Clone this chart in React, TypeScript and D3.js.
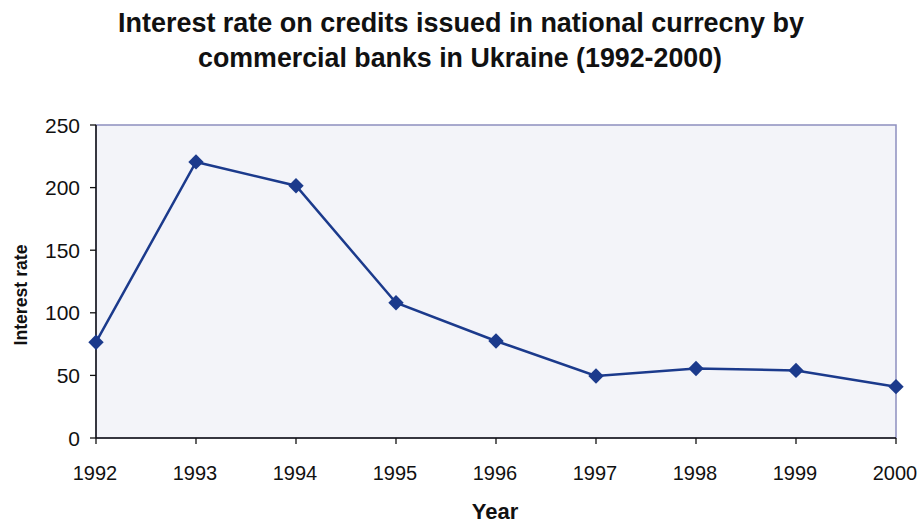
import React from "react";
import * as d3 from "d3";

const years = ["1992", "1993", "1994", "1995", "1996", "1997", "1998", "1999", "2000"];
const rates = [76.5, 220.5, 201.5, 108, 77.5, 49.5, 55.5, 54, 41];
const yTicks = [0, 50, 100, 150, 200, 250];
const titleLines = [
  "Interest rate on credits issued in national currecny by",
  "commercial banks in Ukraine (1992-2000)",
];
const xTitle = "Year";
const yTitle = "Interest rate";

export default function App() {
  const W = 922, H = 525;
  const left = 96, right = 896, top = 125, bottom = 438;
  const x = d3.scalePoint<string>().domain(years).range([left, right]);
  const y = d3.scaleLinear().domain([0, 250]).range([bottom, top]);
  const line = d3
    .line<number>()
    .x((_, i) => x(years[i]) as number)
    .y((d) => y(d));
  const diamond = d3.symbol().type(d3.symbolSquare).size(118)();
  const color = "#1b3a8c";
  const font = "'Liberation Sans', Arial, sans-serif";
  return (
    <svg width={W} height={H} style={{ position: "fixed", left: 0, top: 0, background: "#fff" }}>
      <text x={461} y={32} textAnchor="middle" fontFamily={font} fontWeight="bold" fontSize={28} textLength={686} lengthAdjust="spacingAndGlyphs" fill="#111">
        {titleLines[0]}
      </text>
      <text x={460} y={67} textAnchor="middle" fontFamily={font} fontWeight="bold" fontSize={28} textLength={524} lengthAdjust="spacingAndGlyphs" fill="#111">
        {titleLines[1]}
      </text>
      <rect x={left} y={top} width={right - left} height={bottom - top} fill="#f3f4f9" stroke="#8d8fbf" strokeWidth={1.5} />
      <line x1={left} x2={left} y1={top} y2={bottom} stroke="#111" strokeWidth={1.5} />
      <line x1={left} x2={right} y1={bottom} y2={bottom} stroke="#111" strokeWidth={1.5} />
      {yTicks.map((t) => (
        <g key={t}>
          <line x1={left - 6} x2={left} y1={y(t)} y2={y(t)} stroke="#111" strokeWidth={1.3} />
          <text x={80} y={y(t) + 7.5} textAnchor="end" fontFamily={font} fontSize={21} fill="#111">
            {t}
          </text>
        </g>
      ))}
      {years.map((yr) => (
        <g key={yr}>
          <line x1={x(yr)} x2={x(yr)} y1={bottom} y2={bottom + 6} stroke="#111" strokeWidth={1.3} />
          <text x={(x(yr) as number) - 1} y={480} textAnchor="middle" fontFamily={font} fontSize={20.5} textLength={44.5} lengthAdjust="spacingAndGlyphs" fill="#111">
            {yr}
          </text>
        </g>
      ))}
      <text x={495} y={519} textAnchor="middle" fontFamily={font} fontWeight="bold" fontSize={22} fill="#111">
        {xTitle}
      </text>
      <text transform="translate(27,295) rotate(-90)" textAnchor="middle" fontFamily={font} fontWeight="bold" fontSize={19} textLength={101} lengthAdjust="spacingAndGlyphs" fill="#111">
        {yTitle}
      </text>
      <path d={line(rates) || ""} fill="none" stroke={color} strokeWidth={2.5} />
      {rates.map((r, i) => (
        <path key={i} d={diamond || ""} transform={`translate(${x(years[i])},${y(r)}) rotate(45)`} fill={color} />
      ))}
    </svg>
  );
}
